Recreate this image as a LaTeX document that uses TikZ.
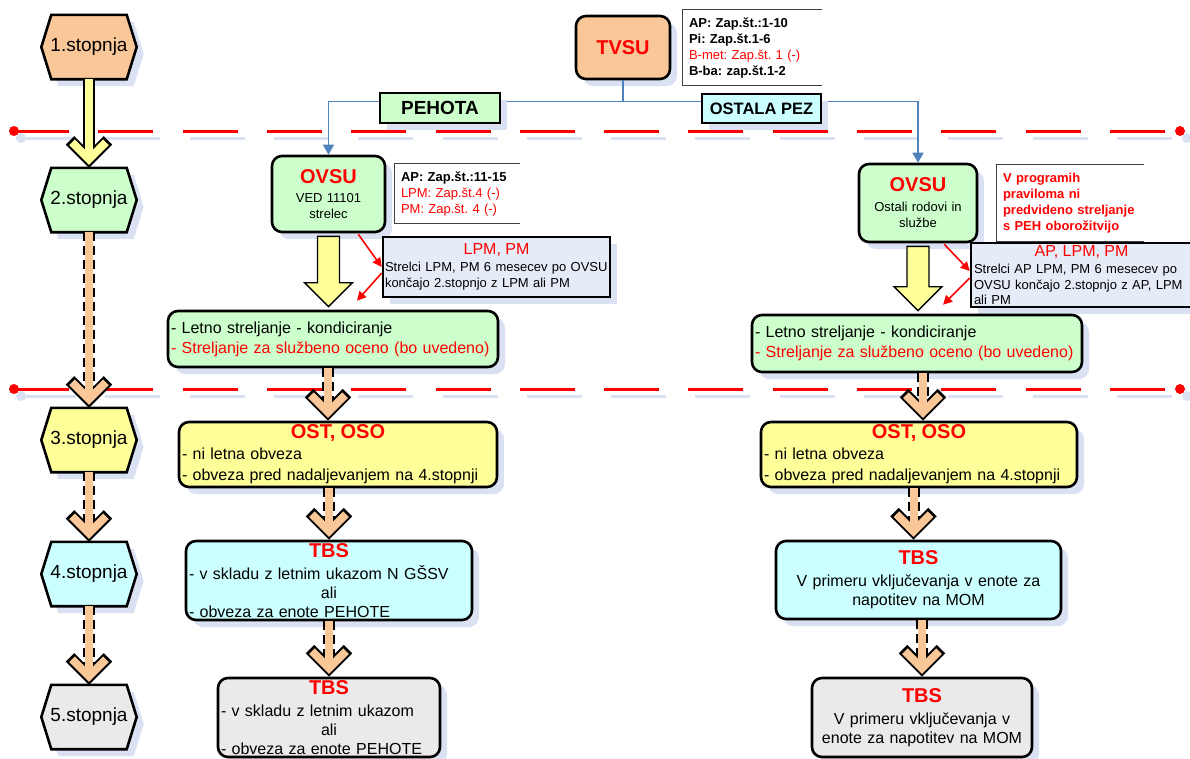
\documentclass[tikz,border=0pt]{standalone}
\usepackage{fontspec}
\setmainfont{Liberation Sans}
\usetikzlibrary{calc,shadows,arrows.meta}

\definecolor{breskev}{RGB}{250,200,152}
\definecolor{meta}{RGB}{204,255,204}
\definecolor{limona}{RGB}{255,255,153}
\definecolor{turkiz}{RGB}{204,255,255}
\definecolor{siva}{RGB}{234,234,234}
\definecolor{svetlomodra}{RGB}{229,235,247}
\definecolor{senca}{RGB}{217,225,242}
\definecolor{modra}{RGB}{79,129,189}

\pgfdeclarelayer{ozadje}
\pgfsetlayers{ozadje,main}

\newcommand{\naslov}[1]{{\fontsize{20}{22}\selectfont\bfseries\color{red}#1}}
\newcommand{\sredina}[1]{\hfill{#1}\hfill\null}

\newcommand{\vpuscica}[5]{%
  \coordinate (vk) at ($(#2.north)+(#5,-8.5)$);
  \coordinate (vz) at (#1.south -| vk);
  \draw[line width=12pt,#4] (vz) -- (vk);
  \draw[line width=12pt,line join=miter] ($(vk)+(-19,-19)$) -- (vk) -- ($(vk)+(19,-19)$);
  \draw[line width=8pt,#3] (vz) -- (vk);
  \draw[line width=8pt,#3,line join=miter] ($(vk)+(-17,-17)$) -- (vk) -- ($(vk)+(17,-17)$);
}

\newcommand{\blokpuscica}[2]{%
  \coordinate (bz) at ($(#1.south)+(0,3)$);
  \coordinate (bk) at ($(#1.south |- #2.north)+(0,-3)$);
  \filldraw[fill=limona,line width=1.4pt,line join=miter] ($(bz)+(-11,0)$) -- ($(bk)+(-11,-24)$) -- ($(bk)+(-24,-24)$) -- (bk) -- ($(bk)+(24,-24)$) -- ($(bk)+(11,-24)$) -- ($(bz)+(11,0)$) -- cycle;
}

\begin{document}
\frenchspacing
\begin{tikzpicture}[x=1pt,y=-1pt,
  zsenco/.style={drop shadow={shadow xshift=7pt,shadow yshift=-7pt,fill=senca,opacity=1}},
  okvir/.style={draw,line width=2.6pt,rounded corners=10pt,inner xsep=3pt,inner ysep=0pt,zsenco,
    font=\fontsize{16}{19}\selectfont,align=left},
  stopnja/.style={minimum width=95pt,minimum height=64pt,inner sep=0pt,font=\fontsize{19}{22}\selectfont},
  heks/.style={draw,line width=2.6pt,line join=miter,zsenco},
  oznaka/.style={draw,line width=2.6pt,inner sep=0pt,zsenco},
  opomba/.style={inner xsep=6pt,inner ysep=0pt,align=left,font=\fontsize{13}{16}\selectfont\bfseries},
  robopombe/.style={black!75,line width=0.9pt},
  povezava/.style={modra,line width=1.5pt},
  rdeca/.style={red,line width=1.6pt,-{Triangle[length=9pt,width=9pt]}},
  meja/.style={red,line width=3pt,dash pattern=on 55pt off 29.3pt},
  crtkano/.style={dash pattern=on 9pt off 5pt}]

\useasboundingbox (0,0) rectangle (1190,758);

\foreach \y in {131,389} {
  \draw[meja,senca] (21,\y+7) -- (1187,\y+7);
  \fill[senca] (21,\y+7) circle (5pt) (1187,\y+7) circle (5pt);
  \draw[meja] (14,\y) -- (1180,\y);
  \fill[red] (14,\y) circle (5pt) (1180,\y) circle (5pt);
}

\node[stopnja] (st1) at (89,47) {1.stopnja};
\node[stopnja] (st2) at (89,200) {2.stopnja};
\node[stopnja] (st3) at (89,440) {3.stopnja};
\node[stopnja] (st4) at (89,574) {4.stopnja};
\node[stopnja] (st5) at (89,717) {5.stopnja};

\begin{pgfonlayer}{ozadje}
\foreach \hx/\farba in {st1/breskev,st2/meta,st3/limona,st4/turkiz,st5/siva}
  \draw[heks,fill=\farba] (\hx.west) -- ($(\hx.north west)+(10,0)$) -- ($(\hx.north east)+(-10,0)$) -- (\hx.east) -- ($(\hx.south east)+(-10,0)$) -- ($(\hx.south west)+(10,0)$) -- cycle;
\end{pgfonlayer}

\node[okvir,fill=breskev,minimum width=94pt,minimum height=63pt,align=center] (tvsu) at (623,47.5) {\naslov{TVSU}};
\node[opomba,text width=127pt,minimum height=75pt] (op1) at (752.5,47.5) {AP: Zap.št.:1-10\\Pi: Zap.št.1-6\\{\mdseries\color{red}B-met: Zap.št. 1 (-)}\\B-ba: zap.št.1-2};
\draw[robopombe] (op1.north east) -- (op1.north west) -- (op1.south west) -- (op1.south east);

\node[okvir,fill=meta,minimum width=113pt,minimum height=76pt,text width=107pt,align=center,font=\fontsize{13}{16}\selectfont] (ovsuL) at (328.5,194) {\naslov{OVSU}\\[3pt]VED 11101\\strelec};
\node[opomba,text width=113pt,minimum height=59pt] (op2) at (457.5,193.5) {AP: Zap.št.:11-15\\{\mdseries\color{red}LPM: Zap.št.4 (-)}\\{\mdseries\color{red}PM: Zap.št. 4 (-)}};
\draw[robopombe] (op2.north east) -- (op2.north west) -- (op2.south west) -- (op2.south east);
\node[okvir,sharp corners,fill=svetlomodra,inner xsep=2pt,minimum width=227pt,minimum height=60pt,text width=223pt,font=\fontsize{13}{16.5}\selectfont] (lpmL) at (496.5,267) {\sredina{\fontsize{16}{18}\selectfont\color{red}LPM, PM}\\Strelci LPM, PM 6 mesecev po~OVSU\\končajo 2.stopnjo z LPM ali PM};
\node[okvir,fill=meta,minimum width=330pt,minimum height=56pt,text width=324pt,font=\fontsize{16}{20}\selectfont] (letnoL) at (333,339) {- Letno streljanje - kondiciranje\\{\color{red}- Streljanje za službeno oceno (bo uvedeno)}};
\node[okvir,fill=limona,minimum width=318pt,minimum height=65pt,text width=312pt,font=\fontsize{16}{21}\selectfont] (ostL) at (338,454.5) {\sredina{\naslov{OST, OSO}}\\- ni letna obveza\\- obveza pred nadaljevanjem na 4.stopnji};
\node[okvir,fill=turkiz,minimum width=286pt,minimum height=79pt,text width=280pt] (tbs4L) at (329,580.5) {\sredina{\naslov{TBS}}\\[3pt]- v skladu z letnim ukazom N GŠSV\\\sredina{ali}\\- obveza za enote PEHOTE};
\node[okvir,fill=siva,minimum width=222pt,minimum height=79pt,text width=216pt] (tbs5L) at (329,717.5) {\sredina{\naslov{TBS}}\\[3pt]- v skladu z letnim ukazom\\\sredina{ali}\\- obveza za enote PEHOTE};

\node[okvir,fill=meta,minimum width=118pt,minimum height=78pt,text width=112pt,align=center,font=\fontsize{13}{16}\selectfont] (ovsuR) at (918,203) {\naslov{OVSU}\\[4pt]Ostali rodovi in\\službe};
\node[opomba,text width=135pt,minimum height=76pt,text=red] (op3) at (1070.5,203) {V programih\\praviloma ni\\predvideno streljanje\\s PEH oborožitvijo};
\draw[robopombe] (op3.north east) -- (op3.north west) -- (op3.south west) -- (op3.south east);
\node[okvir,sharp corners,fill=svetlomodra,minimum width=221pt,minimum height=64pt,text width=215pt,font=\fontsize{13}{15.5}\selectfont] (apR) at (1081.5,275) {\sredina{\fontsize{16}{18}\selectfont\color{red}AP, LPM, PM}\\[2pt]Strelci AP LPM, PM 6 mesecev po\\OVSU končajo 2.stopnjo z AP, LPM\\ali PM};
\node[okvir,fill=meta,minimum width=330pt,minimum height=57pt,text width=324pt,font=\fontsize{16}{19.5}\selectfont] (letnoR) at (917,343.5) {- Letno streljanje - kondiciranje\\{\color{red}- Streljanje za službeno oceno (bo uvedeno)}};
\node[okvir,fill=limona,minimum width=316pt,minimum height=65pt,text width=310pt,font=\fontsize{16}{21}\selectfont] (ostR) at (919,454.5) {\sredina{\naslov{OST, OSO}}\\- ni letna obveza\\- obveza pred nadaljevanjem na 4.stopnji};
\node[okvir,fill=turkiz,minimum width=285pt,minimum height=78pt,text width=279pt,align=center] (tbs4R) at (918.5,580) {\naslov{TBS}\\[3pt]V primeru vključevanja v enote za\\napotitev na MOM};
\node[okvir,fill=siva,minimum width=220pt,minimum height=79pt,text width=214pt,align=center] (tbs5R) at (922,717.5) {\naslov{TBS}\\[3pt]V primeru vključevanja v\\enote za napotitev na MOM};

\draw[povezava] (tvsu.south) -- ++(0,21) coordinate (razcep);
\draw[povezava,-{Triangle[length=10pt,width=11pt]}] (razcep) -| (ovsuL.north);
\draw[povezava,-{Triangle[length=10pt,width=11pt]}] (razcep) -| (ovsuR.north);
\node[oznaka,fill=meta,minimum width=120pt,minimum height=30pt,font=\fontsize{19}{19}\selectfont\bfseries] (pehota) at (440,108) {PEHOTA};
\node[oznaka,fill=turkiz,minimum width=119pt,minimum height=29pt,font=\fontsize{16.5}{17}\selectfont\bfseries] (ostala) at (761.5,108.5) {OSTALA PEZ};

\draw[rdeca] ($(ovsuL.south east)+(-28,1)$) -- (lpmL.west);
\draw[rdeca] ($(lpmL.west)+(0,6)$) -- ($(letnoL.north)+(24,-9)$);
\draw[rdeca] ($(ovsuR.south east)+(-34,1)$) -- ($(apR.west)+(0,-4)$);
\draw[rdeca] ($(apR.west)+(0,3)$) -- ($(letnoR.north)+(26,-9)$);

\blokpuscica{ovsuL}{letnoL}
\blokpuscica{ovsuR}{letnoR}

\vpuscica{st1}{st2}{limona}{solid}{0}
\vpuscica{st2}{st3}{breskev}{crtkano}{0}
\vpuscica{st3}{st4}{breskev}{crtkano}{0}
\vpuscica{st4}{st5}{breskev}{crtkano}{0}
\vpuscica{letnoL}{ostL}{breskev}{crtkano}{-10}
\vpuscica{ostL}{tbs4L}{breskev}{crtkano}{0}
\vpuscica{tbs4L}{tbs5L}{breskev}{crtkano}{0}
\vpuscica{letnoR}{ostR}{breskev}{crtkano}{4}
\vpuscica{ostR}{tbs4R}{breskev}{crtkano}{-5}
\vpuscica{tbs4R}{tbs5R}{breskev}{crtkano}{0}
\end{tikzpicture}
\end{document}
